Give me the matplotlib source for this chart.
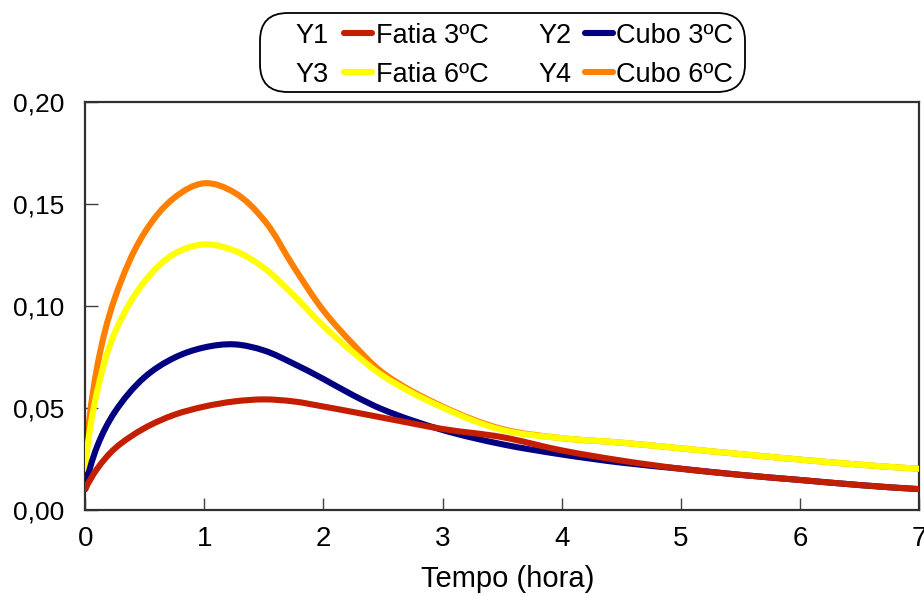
import numpy as np
import matplotlib
matplotlib.use("Agg")
import matplotlib.pyplot as plt
from matplotlib.path import Path
from matplotlib.patches import PathPatch, FancyBboxPatch
from matplotlib.lines import Line2D
from matplotlib.ticker import FuncFormatter

plt.rcParams['font.family'] = ['Liberation Sans', 'DejaVu Sans']

# Time (hours) and measured values for each sample
tempo = [0, 0.1, 0.25, 0.5, 0.75, 1.0, 1.25, 1.5, 1.75, 2.0, 2.25, 2.5, 3.0, 3.5, 4.0, 4.5,
         5.0, 5.5, 6.0, 6.5, 7.0]

fatia_3 = [0.010, 0.020, 0.030, 0.040, 0.0465, 0.0505, 0.053, 0.054, 0.053, 0.0505, 0.0478, 0.045,
           0.0395, 0.0355, 0.029, 0.024, 0.020, 0.017, 0.0145, 0.012, 0.010]
cubo_3 = [0.010, 0.031, 0.048, 0.065, 0.0745, 0.0795, 0.081, 0.078, 0.0715, 0.064, 0.056, 0.049,
          0.039, 0.032, 0.027, 0.023, 0.020, 0.017, 0.0145, 0.012, 0.010]
fatia_6 = [0.020, 0.058, 0.087, 0.112, 0.1255, 0.130, 0.127, 0.1185, 0.105, 0.090, 0.077, 0.0655,
           0.050, 0.039, 0.035, 0.0328, 0.030, 0.0272, 0.0245, 0.022, 0.020]
cubo_6 = [0.020, 0.070, 0.104, 0.136, 0.153, 0.160, 0.1555, 0.142, 0.119, 0.0975, 0.081, 0.067,
          0.0505, 0.0395, 0.035, 0.0328, 0.030, 0.0272, 0.0245, 0.022, 0.020]

series_tags = ["Y1", "Y2", "Y3", "Y4"]
series_names = ["Fatia 3ºC", "Cubo 3ºC", "Fatia 6ºC", "Cubo 6ºC"]
series_values = [fatia_3, cubo_3, fatia_6, cubo_6]
series_colors = ["#C41E00", "#000080", "#FFFF00", "#FF8000"]
series_z = [5, 4, 3, 2]

x_ticks = [0, 1, 2, 3, 4, 5, 6, 7]
y_ticks = [0.00, 0.05, 0.10, 0.15, 0.20]


def smooth_path(ax, x, y):
    """Smoothed line through the points, built as cubic Bezier segments
    in display space and mapped back to data coordinates."""
    pts = ax.transData.transform(np.column_stack([x, y]))
    n = len(pts)
    seg = pts[1:] - pts[:-1]
    lens = np.hypot(seg[:, 0], seg[:, 1])
    units = seg / lens[:, None]
    tang = np.zeros_like(pts)
    for i in range(1, n - 1):
        t = units[i - 1] + units[i]
        tang[i] = t / np.hypot(*t)
    t0 = 2 * units[0] * np.dot(units[0], tang[1]) - tang[1]
    tang[0] = t0 / np.hypot(*t0)
    tn = 2 * units[-1] * np.dot(units[-1], tang[-2]) - tang[-2]
    tang[-1] = tn / np.hypot(*tn)
    verts = [pts[0]]
    codes = [Path.MOVETO]
    for i in range(n - 1):
        L = lens[i] / 3.0
        verts += [pts[i] + tang[i] * L, pts[i + 1] - tang[i + 1] * L, pts[i + 1]]
        codes += [Path.CURVE4] * 3
    data_verts = ax.transData.inverted().transform(np.array(verts))
    return Path(data_verts, codes)


fig = plt.figure(figsize=(9.24, 5.96), dpi=100)
ax = fig.add_axes([0.0923, 0.1451, 0.9023, 0.6843])
ax.set_xlim(0, 7)
ax.set_ylim(0, 0.20)

for vals, col, z in zip(series_values, series_colors, series_z):
    patch = PathPatch(smooth_path(ax, tempo, vals), facecolor="none", edgecolor=col,
                      linewidth=4.4, capstyle="round", joinstyle="round", zorder=z)
    ax.add_patch(patch)

ax.set_xticks(x_ticks)
ax.set_yticks(y_ticks)
ax.yaxis.set_major_formatter(FuncFormatter(lambda v, p: f"{v:.2f}".replace(".", ",")))
ax.tick_params(axis="both", direction="in", length=9, width=1.0, color="#404040",
               labelcolor="black")
ax.tick_params(axis="x", pad=12, labelsize=20)
ax.tick_params(axis="y", pad=15, labelsize=19)
for s in ax.spines.values():
    s.set_color("#303030")
    s.set_linewidth(1.6)
ax.set_xlabel("Tempo (hora)", fontsize=21, labelpad=9)
ax.xaxis.label.set_x(0.507)

# Legend box with tag, line sample and name for each series
W, H = 924.0, 596.0
box = FancyBboxPatch((260 / W, 1 - 92 / H), (745 - 260) / W, (92 - 13) / H,
                     boxstyle="round,pad=0,rounding_size=0.03",
                     transform=fig.transFigure, facecolor="white",
                     edgecolor="black", linewidth=1.3, mutation_aspect=W / H)
fig.add_artist(box)

slots = [(295, 344, 376, 33), (538, 585, 616, 33), (295, 344, 376, 72), (538, 585, 616, 72)]
for tag, name, col, (tx, lx, nx, cy) in zip(series_tags, series_names, series_colors, slots):
    fy = 1 - cy / H
    fig.text(tx / W, fy, tag, fontsize=19.5, ha="left", va="center_baseline")
    fig.add_artist(Line2D([lx / W, (lx + 28) / W], [fy, fy], transform=fig.transFigure,
                          color=col, linewidth=4.4, solid_capstyle="round"))
    fig.text(nx / W, fy, name, fontsize=19.5, ha="left", va="center_baseline")

fig.savefig("out.png", dpi=100)
